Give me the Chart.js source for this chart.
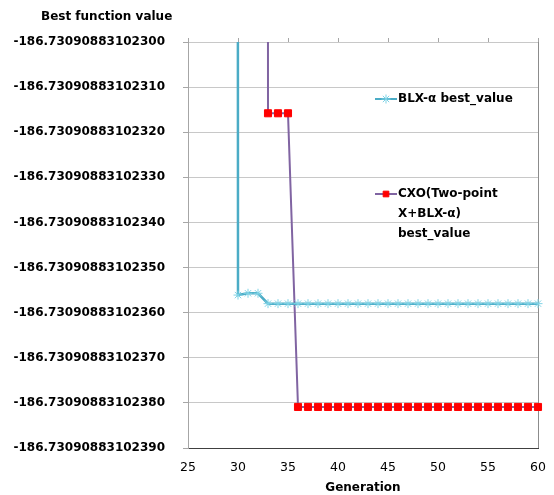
<!DOCTYPE html>
<html>
<head>
<meta charset="utf-8">
<script src="https://cdn.jsdelivr.net/npm/chart.js@4/dist/chart.umd.min.js"></script>
<style>
body { margin: 0; background: #fff; }
</style>
</head>
<body>
<canvas id="chart" width="554" height="495"></canvas>
<script>
// values are offsets from -186.73090883102300, in units of 1e-14
const BASE = '-186.730908831023';
const blxGenerations = [29, 30, 31, 32, 33, 34, 35, 36, 37, 38, 39, 40, 41, 42, 43, 44, 45, 46, 47, 48, 49, 50, 51, 52, 53, 54, 55, 56, 57, 58, 59, 60];
const blxValues = [5000, -56.1, -55.7, -55.7, -58, -58, -58, -58, -58, -58, -58, -58, -58, -58, -58, -58, -58, -58, -58, -58, -58, -58, -58, -58, -58, -58, -58, -58, -58, -58, -58, -58];
const cxoGenerations = [32, 33, 34, 35, 36, 37, 38, 39, 40, 41, 42, 43, 44, 45, 46, 47, 48, 49, 50, 51, 52, 53, 54, 55, 56, 57, 58, 59, 60];
const cxoValues = [5000, -15.8, -15.8, -15.8, -80.9, -80.9, -80.9, -80.9, -80.9, -80.9, -80.9, -80.9, -80.9, -80.9, -80.9, -80.9, -80.9, -80.9, -80.9, -80.9, -80.9, -80.9, -80.9, -80.9, -80.9, -80.9, -80.9, -80.9, -80.9];
const yTicks = [0, -10, -20, -30, -40, -50, -60, -70, -80, -90];
const xTicks = [25, 30, 35, 40, 45, 50, 55, 60];

const FONT = "'DejaVu Sans', sans-serif";

function toPoints(xs, ys) {
    return xs.map((x, i) => ({ x: x, y: ys[i] }));
}

function tickLabel(v) {
    return BASE + String(Math.round(-v)).padStart(2, '0');
}

const extras = {
    id: 'extras',
    beforeDatasetsDraw(chart) {
        const ctx = chart.ctx;
        const a = chart.chartArea;
        const xs = chart.scales.x;
        ctx.save();
        ctx.strokeStyle = '#8c8c8c';
        ctx.lineWidth = 1;
        ctx.beginPath();
        ctx.moveTo(a.right + 0.5, a.top);
        ctx.lineTo(a.right + 0.5, a.bottom);
        ctx.stroke();
        ctx.strokeStyle = '#a6a6a6';
        ctx.beginPath();
        xTicks.forEach(t => {
            const px = Math.round(xs.getPixelForValue(t)) + 0.5;
            ctx.moveTo(px, a.top);
            ctx.lineTo(px, a.top - 4);
        });
        ctx.stroke();
        ctx.restore();
    },
    afterDraw(chart) {
        const ctx = chart.ctx;
        ctx.save();
        ctx.fillStyle = '#000';
        ctx.font = 'bold 12px ' + FONT;
        ctx.textBaseline = 'middle';
        ctx.textAlign = 'left';
        ctx.fillText('Best function value', 41, 17);

        // legend
        const lx = 375, tx = 398;
        const items = [
            { y: 99, color: '#4bacc6', pt: 'star', ptColor: '#7fd3e6', r: 4.5, lines: ['BLX-α best_value'] },
            { y: 194, color: '#8064a2', pt: 'rect', ptColor: '#ff0000', r: 4, lines: ['CXO(Two-point', 'X+BLX-α)', 'best_value'] }
        ];
        items.forEach(it => {
            ctx.strokeStyle = it.color;
            ctx.lineWidth = 2;
            ctx.beginPath();
            ctx.moveTo(lx, it.y);
            ctx.lineTo(lx + 22, it.y);
            ctx.stroke();
            ctx.strokeStyle = it.ptColor;
            ctx.fillStyle = it.ptColor;
            ctx.lineWidth = 1;
            Chart.helpers.drawPoint(ctx, { pointStyle: it.pt, radius: it.r, borderWidth: 1, rotation: 0 }, lx + 11, it.y);
            ctx.fillStyle = '#000';
            it.lines.forEach((t, i) => ctx.fillText(t, tx, it.y + i * 20));
        });
        ctx.restore();
    }
};

new Chart(document.getElementById('chart'), {
    type: 'line',
    data: {
        datasets: [{
            label: 'BLX-α best_value',
            data: toPoints(blxGenerations, blxValues),
            borderColor: '#4bacc6',
            borderWidth: 2.5,
            pointStyle: 'star',
            pointRadius: 4.5,
            pointBorderColor: '#7fd3e6',
            pointBackgroundColor: '#7fd3e6',
            pointBorderWidth: 1,
            tension: 0,
            clip: { left: 0, top: 0, right: 8, bottom: 8 }
        }, {
            label: 'CXO(Two-point X+BLX-α) best_value',
            data: toPoints(cxoGenerations, cxoValues),
            borderColor: '#8064a2',
            borderWidth: 2,
            pointStyle: 'rect',
            pointRadius: 5,
            pointBorderColor: '#ff0000',
            pointBackgroundColor: '#ff0000',
            pointBorderWidth: 1,
            tension: 0,
            clip: { left: 0, top: 0, right: 8, bottom: 8 }
        }]
    },
    options: {
        responsive: false,
        animation: false,
        layout: { padding: { top: 42, right: 16, bottom: 0, left: 0 } },
        plugins: {
            legend: { display: false },
            tooltip: { enabled: false }
        },
        scales: {
            x: {
                type: 'linear',
                min: 25,
                max: 60,
                afterBuildTicks: scale => { scale.ticks = xTicks.map(v => ({ value: v })); },
                afterFit: scale => {
                    scale.height = 47;
                    scale.paddingLeft = 0;
                    scale.paddingRight = 0;
                },
                grid: { display: false, drawTicks: false },
                border: { display: true, color: '#404040', width: 1 },
                ticks: {
                    padding: 12,
                    color: '#000',
                    font: { family: FONT, size: 12.5 }
                },
                title: {
                    display: true,
                    text: 'Generation',
                    color: '#000',
                    padding: { top: 0, bottom: 0 },
                    font: { family: FONT, size: 12, weight: 'bold' }
                }
            },
            y: {
                min: -90,
                max: 0,
                afterBuildTicks: scale => { scale.ticks = yTicks.map(v => ({ value: v })); },
                afterFit: scale => { scale.width = 188; },
                grid: {
                    color: '#c8c8c8',
                    tickColor: '#a6a6a6',
                    tickLength: 5
                },
                border: { display: true, color: '#a6a6a6', width: 1 },
                ticks: {
                    padding: 18,
                    color: '#000',
                    font: { family: FONT, size: 12, weight: 'bold' },
                    callback: v => tickLabel(v)
                }
            }
        }
    },
    plugins: [extras]
});
</script>
</body>
</html>
